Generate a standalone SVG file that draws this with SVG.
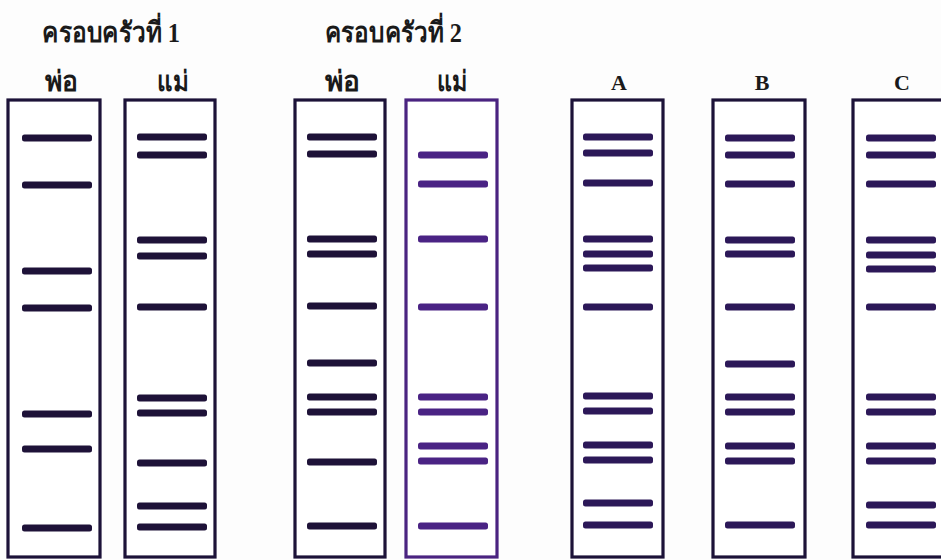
<svg xmlns="http://www.w3.org/2000/svg" xmlns:xlink="http://www.w3.org/1999/xlink" width="941" height="560" viewBox="0 0 941 560">
  <style>
    .lane { fill: #ffffff; stroke: #1c1238; stroke-width: 3.2; }
    .lane.purple { stroke: #4a2380; }
    .band { fill: #2c1858; }
    .band.dark { fill: #1e1238; }
    .band.purple { fill: #4a2384; }
    .label { font-family: "Liberation Serif", "Noto Sans", serif; font-weight: bold; fill: #1a1a1a; }
    .title { font-size: 28px; }
    .who { font-size: 28px; }
    .letter { font-size: 22px; }
  </style>
  <defs>
    <rect id="b" x="0" y="-3.5" width="70" height="7" rx="2.5"/>
  </defs>
  <rect width="941" height="560" fill="#fdfdfd"/>

  <!-- headings -->
  <g id="headings" class="label">
    <text class="title" x="42" y="42" textLength="138" lengthAdjust="spacingAndGlyphs">ครอบครัวที่ 1</text>
    <text class="title" x="325" y="42" textLength="137" lengthAdjust="spacingAndGlyphs">ครอบครัวที่ 2</text>
    <text class="who" x="45" y="91" textLength="33" lengthAdjust="spacingAndGlyphs">พ่อ</text>
    <text class="who" x="157" y="91" textLength="31" lengthAdjust="spacingAndGlyphs">แม่</text>
    <text class="who" x="325" y="91" textLength="35" lengthAdjust="spacingAndGlyphs">พ่อ</text>
    <text class="who" x="437" y="91" textLength="30" lengthAdjust="spacingAndGlyphs">แม่</text>
    <text class="letter" x="619" y="90" text-anchor="middle">A</text>
    <text class="letter" x="762" y="90" text-anchor="middle">B</text>
    <text class="letter" x="902" y="90" text-anchor="middle">C</text>
  </g>

  <!-- family 1, father -->
  <g id="f1-father" transform="translate(8,100)">
    <rect class="lane" x="0" y="0" width="92" height="457"/>
    <g class="band dark" transform="translate(14,0)">
      <use xlink:href="#b" y="38"/><use xlink:href="#b" y="85"/><use xlink:href="#b" y="171"/>
      <use xlink:href="#b" y="208"/><use xlink:href="#b" y="314"/><use xlink:href="#b" y="349"/>
      <use xlink:href="#b" y="428"/>
    </g>
  </g>

  <!-- family 1, mother -->
  <g id="f1-mother" transform="translate(125,100)">
    <rect class="lane" x="0" y="0" width="90" height="457"/>
    <g class="band dark" transform="translate(12,0)">
      <use xlink:href="#b" y="37"/><use xlink:href="#b" y="55"/><use xlink:href="#b" y="140"/>
      <use xlink:href="#b" y="156"/><use xlink:href="#b" y="207"/><use xlink:href="#b" y="298"/>
      <use xlink:href="#b" y="313"/><use xlink:href="#b" y="363"/><use xlink:href="#b" y="406"/>
      <use xlink:href="#b" y="427"/>
    </g>
  </g>

  <!-- family 2, father -->
  <g id="f2-father" transform="translate(295,100)">
    <rect class="lane" x="0" y="0" width="90" height="457"/>
    <g class="band dark" transform="translate(12,0)">
      <use xlink:href="#b" y="37"/><use xlink:href="#b" y="54"/><use xlink:href="#b" y="139"/>
      <use xlink:href="#b" y="154"/><use xlink:href="#b" y="206"/><use xlink:href="#b" y="263"/>
      <use xlink:href="#b" y="297"/><use xlink:href="#b" y="312"/><use xlink:href="#b" y="362"/>
      <use xlink:href="#b" y="426"/>
    </g>
  </g>

  <!-- family 2, mother -->
  <g id="f2-mother" transform="translate(406,100)">
    <rect class="lane purple" x="0" y="0" width="91" height="457"/>
    <g class="band purple" transform="translate(12,0)">
      <use xlink:href="#b" y="55"/><use xlink:href="#b" y="84"/><use xlink:href="#b" y="139"/>
      <use xlink:href="#b" y="207"/><use xlink:href="#b" y="297"/><use xlink:href="#b" y="312"/>
      <use xlink:href="#b" y="346"/><use xlink:href="#b" y="361"/><use xlink:href="#b" y="426"/>
    </g>
  </g>

  <!-- child A -->
  <g id="child-a" transform="translate(572,100)">
    <rect class="lane" x="0" y="0" width="91" height="457"/>
    <g class="band" transform="translate(11,0)">
      <use xlink:href="#b" y="37"/><use xlink:href="#b" y="53"/><use xlink:href="#b" y="83"/>
      <use xlink:href="#b" y="139"/><use xlink:href="#b" y="154"/><use xlink:href="#b" y="168"/>
      <use xlink:href="#b" y="207"/><use xlink:href="#b" y="296"/><use xlink:href="#b" y="311"/>
      <use xlink:href="#b" y="345"/><use xlink:href="#b" y="360"/><use xlink:href="#b" y="403"/>
      <use xlink:href="#b" y="425"/>
    </g>
  </g>

  <!-- child B -->
  <g id="child-b" transform="translate(713,100)">
    <rect class="lane" x="0" y="0" width="92" height="457"/>
    <g class="band" transform="translate(12,0)">
      <use xlink:href="#b" y="38"/><use xlink:href="#b" y="55"/><use xlink:href="#b" y="84"/>
      <use xlink:href="#b" y="140"/><use xlink:href="#b" y="154"/><use xlink:href="#b" y="207"/>
      <use xlink:href="#b" y="264"/><use xlink:href="#b" y="297"/><use xlink:href="#b" y="312"/>
      <use xlink:href="#b" y="346"/><use xlink:href="#b" y="361"/><use xlink:href="#b" y="425"/>
    </g>
  </g>

  <!-- child C -->
  <g id="child-c" transform="translate(853,100)">
    <rect class="lane" x="0" y="0" width="94" height="457"/>
    <g class="band" transform="translate(13,0)">
      <use xlink:href="#b" y="38"/><use xlink:href="#b" y="55"/><use xlink:href="#b" y="84"/>
      <use xlink:href="#b" y="140"/><use xlink:href="#b" y="155"/><use xlink:href="#b" y="169"/>
      <use xlink:href="#b" y="207"/><use xlink:href="#b" y="297"/><use xlink:href="#b" y="312"/>
      <use xlink:href="#b" y="346"/><use xlink:href="#b" y="361"/><use xlink:href="#b" y="405"/>
      <use xlink:href="#b" y="425"/>
    </g>
  </g>
</svg>
